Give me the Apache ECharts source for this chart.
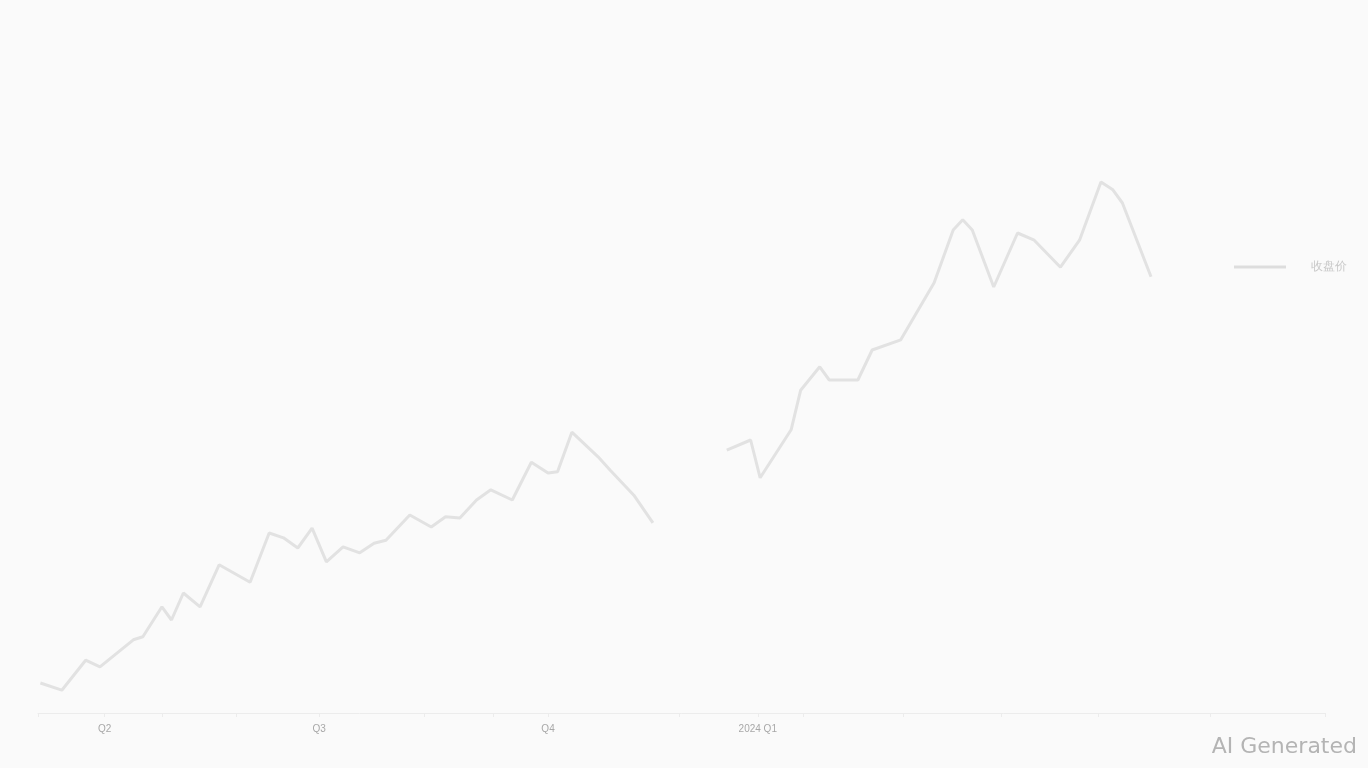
<!DOCTYPE html>
<html><head><meta charset="utf-8">
<script src="https://cdn.jsdelivr.net/npm/echarts@6/dist/echarts.min.js"></script>
<style>html,body{margin:0;padding:0;background:#fafafa}#c{width:1368px;height:768px}</style>
</head><body><div id="c"></div>
<script>
const seriesName = '收盘价';
const tickDays = [28, 118, 214, 302];
const tickLabels = ['Q2', 'Q3', 'Q4', '2024 Q1'];
const minorTickDays = [0, 52, 83, 162, 191, 269, 321, 363, 404, 445, 492, 540];
const days = [1, 10, 20, 26, 40, 44, 52, 56, 61, 68, 76, 89, 97, 103, 109, 115, 121, 128, 135, 141, 146, 156, 165, 171, 177, 184, 190, 199, 207, 214, 218, 224, 235, 240, 250, 258,
  270,
  289, 299, 303, 316, 320, 328, 332, 344, 350, 362, 376, 384, 388, 392, 401, 411, 418, 429, 437, 446, 451, 455, 467];
const values = [5.0, 3.8, 8.8, 7.7, 12.2, 12.7, 17.7, 15.5, 20.0, 17.7, 24.7, 21.8, 30.0, 29.2, 27.5, 30.8, 25.2, 27.7, 26.7, 28.3, 28.8, 33.0, 31.0, 32.7, 32.5, 35.5, 37.2, 35.5, 41.8, 40.0, 40.2, 46.8, 42.7, 40.5, 36.3, 31.7,
  null,
  43.8, 45.5, 39.2, 47.2, 53.8, 57.7, 55.5, 55.5, 60.5, 62.2, 71.7, 80.5, 82.2, 80.5, 71.0, 80.0, 78.8, 74.3, 78.8, 88.5, 87.2, 85.0, 72.7];

const chart = echarts.init(document.getElementById('c'));
chart.setOption({
  backgroundColor: '#fafafa',
  animation: false,
  grid: {left: 38, right: 43, top: 113, bottom: 55},
  legend: {
    right: 16, top: 256, orient: 'vertical',
    itemWidth: 52, itemHeight: 14, itemGap: 10,
    textStyle: {color: '#c8c8c8', fontSize: 12, padding: [0, 0, 0, 20]},
    data: [{name: seriesName, icon: 'path://M0,0 L52,0 L52,3 L0,3 Z'}]
  },
  xAxis: {
    type: 'value', min: 0, max: 540,
    splitLine: {show: false},
    axisLine: {show: true, lineStyle: {color: '#ececec', width: 1}},
    axisTick: {show: true, customValues: minorTickDays.concat(tickDays), length: 4, lineStyle: {color: '#ececec'}},
    axisLabel: {
      customValues: tickDays, color: '#a8a8a8', fontSize: 10, margin: 11,
      formatter: v => tickLabels[tickDays.indexOf(v)]
    }
  },
  yAxis: {type: 'value', min: 0, max: 100, show: false, splitLine: {show: false}},
  series: [{
    name: seriesName, type: 'line', showSymbol: false, connectNulls: false,
    data: days.map((d, i) => [d, values[i]]),
    lineStyle: {color: '#e2e2e2', width: 3},
    itemStyle: {color: '#dddddd'}
  }],
  graphic: [{
    type: 'text', right: 11, bottom: 10,
    style: {text: 'AI Generated', fill: '#b4b4b4', font: '22px "DejaVu Sans", sans-serif'}
  }]
});
</script></body></html>
